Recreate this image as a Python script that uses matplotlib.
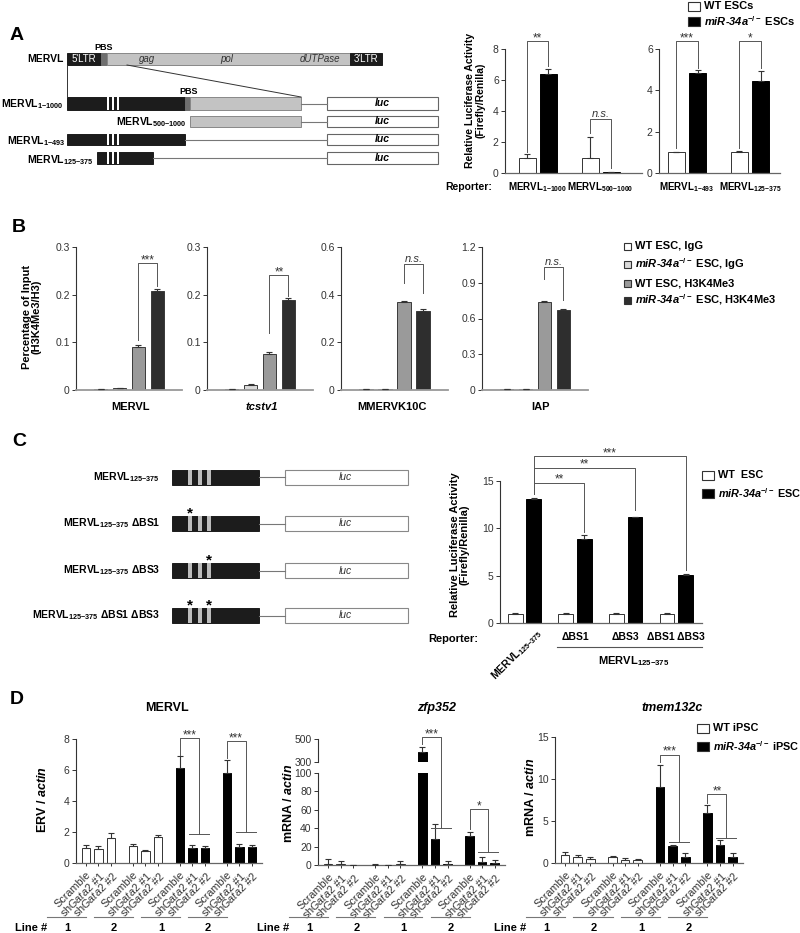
import matplotlib
matplotlib.use('Agg')
import matplotlib.pyplot as plt
import matplotlib.transforms as mtransforms
from matplotlib.patches import Rectangle
import numpy as np

plt.rcParams['font.family'] = ['Liberation Sans', 'DejaVu Sans']
plt.rcParams['mathtext.fontset'] = 'custom'
plt.rcParams['mathtext.rm'] = 'Liberation Sans'
plt.rcParams['mathtext.it'] = 'Liberation Sans:italic'
plt.rcParams['mathtext.bf'] = 'Liberation Sans:bold'
plt.rcParams['mathtext.bfit'] = 'Liberation Sans:italic:bold'
plt.rcParams['mathtext.default'] = 'regular'

KO = '$\\mathbfit{miR}$-$\\mathbfit{34a}^{-/-}$'

# ---- data ----
# A: luciferase reporters
a_rep1 = ['MERVL$_{1{-}1000}$', 'MERVL$_{500{-}1000}$']
a_wt1 = [1.0, 1.0]
a_wt1_err = [0.2, 1.3]
a_ko1 = [6.4, 0.08]
a_ko1_err = [0.3, 0.01]
a_rep2 = ['MERVL$_{1{-}493}$', 'MERVL$_{125{-}375}$']
a_wt2 = [1.0, 1.0]
a_wt2_err = [0.03, 0.06]
a_ko2 = [4.85, 4.45]
a_ko2_err = [0.12, 0.5]

# B: ChIP H3K4Me3
b_targets = ['MERVL', 'tcstv1', 'MMERVK10C', 'IAP']
b_series = ['WT ESC, IgG', KO + ' ESC, IgG', 'WT ESC, H3K4Me3', KO + ' ESC, H3K4Me3']
b_colors = ['white', '#d9d9d9', '#9a9a9a', '#2e2e2e']
b_mervl = [0.002, 0.004, 0.090, 0.207]
b_mervl_err = [0.0005, 0.001, 0.005, 0.004]
b_tcstv1 = [0.002, 0.011, 0.075, 0.188]
b_tcstv1_err = [0.0005, 0.001, 0.005, 0.004]
b_mmervk10c = [0.003, 0.003, 0.370, 0.333]
b_mmervk10c_err = [0.001, 0.001, 0.005, 0.006]
b_iap = [0.005, 0.005, 0.740, 0.675]
b_iap_err = [0.001, 0.001, 0.005, 0.005]
b_ymax = [0.3, 0.3, 0.6, 1.2]
b_yticks = [[0, 0.1, 0.2, 0.3], [0, 0.1, 0.2, 0.3], [0, 0.2, 0.4, 0.6], [0, 0.3, 0.6, 0.9, 1.2]]
b_sig = ['***', '**', 'n.s.', 'n.s.']

# C: binding-site mutants
c_reporters = ['MERVL$_{125{-}375}$', 'ΔBS1', 'ΔBS3', 'ΔBS1 ΔBS3']
c_wt = [1.0, 1.0, 1.0, 1.0]
c_wt_err = [0.04, 0.04, 0.1, 0.1]
c_ko = [13.1, 8.85, 11.2, 5.1]
c_ko_err = [0.15, 0.4, 0.05, 0.12]
c_sig = ['**', '**', '***']

# D: Gata2 knockdown in iPSC
d_labels = ['Scramble', 'sh$\\mathit{Gata2}$ #1', 'sh$\\mathit{Gata2}$ #2'] * 4
d_lines = ['1', '2', '1', '2']
d_mervl = [1.0, 0.92, 1.6, 1.12, 0.78, 1.65, 6.15, 1.0, 0.97, 5.8, 1.05, 1.02]
d_mervl_err = [0.15, 0.15, 0.35, 0.08, 0.05, 0.18, 0.75, 0.15, 0.15, 0.85, 0.18, 0.13]
d_zfp352 = [1.5, 1.0, 0.2, 0.5, 0.2, 1.2, 390, 28, 1.0, 32, 3.0, 2.0]
d_zfp352_err = [5.5, 3.0, 0.0, 0.5, 0.0, 3.0, 40, 17, 3.0, 3.5, 6.0, 3.0]
d_tmem132c = [1.0, 0.75, 0.5, 0.7, 0.4, 0.35, 9.0, 2.05, 0.7, 5.9, 2.2, 0.7]
d_tmem132c_err = [0.3, 0.25, 0.25, 0.1, 0.15, 0.1, 2.7, 0.15, 0.5, 1.0, 0.5, 0.5]

W, H = 800, 933
fig = plt.figure(figsize=(8, 9.33), dpi=100)
bg = fig.add_axes([0, 0, 1, 1], zorder=-1)
bg.set_xlim(0, W)
bg.set_ylim(H, 0)
bg.axis('off')


def px_axes(x0, y0, x1, y1):
    ax = fig.add_axes([x0 / W, 1 - y1 / H, (x1 - x0) / W, (y1 - y0) / H])
    ax.set_facecolor('none')
    for s in ('top', 'right'):
        ax.spines[s].set_visible(False)
    ax.spines['left'].set_linewidth(0.8)
    ax.spines['left'].set_color('#333333')
    ax.spines['bottom'].set_linewidth(0.9)
    ax.spines['bottom'].set_color('#666666')
    ax.tick_params(axis='y', length=3, width=0.7, labelsize=7.5, pad=1.5, colors='#333333')
    ax.set_xticks([])
    return ax


def bars(ax, x, vals, errs, color, width, edge='#333333'):
    ax.bar(x, vals, width, color=color, edgecolor=edge, linewidth=0.7, zorder=2)
    ax.errorbar(x, vals, yerr=[np.zeros(len(vals)), errs], fmt='none', ecolor='#333333',
                elinewidth=0.8, capsize=2.5, capthick=0.8, zorder=3)


def bracket(ax, x1, y1, x2, y2, top, label, fs=8.5):
    ax.plot([x1, x1, x2, x2], [y1, top, top, y2], color='#555555', lw=0.7, clip_on=False, zorder=4)
    if label == 'n.s.':
        ax.text((x1 + x2) / 2, top, label, ha='center', va='bottom', fontsize=8, style='italic', color='#333333')
    else:
        ax.text((x1 + x2) / 2, top, label, ha='center', va='baseline', fontsize=fs, color='#333333')


def px_y(ax):
    return mtransforms.blended_transform_factory(ax.transData, bg.transData)


def box(x0, x1, y0, y1, fc, ec=None, lw=0.7):
    bg.add_patch(Rectangle((x0, y0), x1 - x0, y1 - y0, facecolor=fc, edgecolor=ec or fc, linewidth=lw))


def legend(items, colors, x, ys, w, h, fs=8):
    for lab, col, y in zip(items, colors, ys):
        box(x, x + w, y - h / 2, y + h / 2, col, '#333333', 0.8)
        bg.text(x + w + 4, y, lab, ha='left', va='center', fontsize=fs, fontweight='bold')


# panel letters
for lab, (lx, ly) in zip('ABCD', [(10, 36), (12, 228), (12, 442), (10, 699)]):
    bg.text(lx, ly, lab, fontsize=14, fontweight='bold', ha='left', va='center')

# ---- A: diagram ----
black = '#1c1c1c'
lgray = '#c3c3c3'
box(67, 101, 53, 65, black)
box(101, 107, 53, 65, '#6f6f6f')
box(107, 350, 53, 65, lgray, '#888888')
box(350, 382, 53, 65, black)
bg.text(84, 59.5, "5'LTR", color='white', fontsize=7, ha='center', va='center')
bg.text(366, 59.5, "3'LTR", color='white', fontsize=7, ha='center', va='center')
for t, tx in [('gag', 147), ('pol', 227), ('dUTPase', 320)]:
    bg.text(tx, 59.5, t, style='italic', fontsize=7, ha='center', va='center', color='#333333')
bg.text(64, 59.5, 'MERVL', fontsize=7.5, fontweight='bold', ha='right', va='center')
bg.text(104, 47, 'PBS', fontsize=6.5, fontweight='bold', ha='center', va='center')
bg.plot([67, 67], [65, 97], color='#333333', lw=0.7)
bg.plot([127, 301], [65, 97], color='#333333', lw=0.7)

rows = [(97, 110), (116, 127), (134, 145), (152, 164)]
box(67, 185, *rows[0], black)
box(185, 190, *rows[0], '#6f6f6f')
box(190, 301, *rows[0], lgray, '#888888')
bg.text(189, 92, 'PBS', fontsize=6.5, fontweight='bold', ha='center', va='center')
box(190, 301, *rows[1], lgray, '#888888')
box(67, 185, *rows[2], black)
box(97, 153, *rows[3], black)
for r in (0, 2, 3):
    for sx in (107.3, 112, 116.7):
        box(sx, sx + 2, rows[r][0], rows[r][1], 'white', 'white', 0)
for r, x0 in zip(range(4), (301, 301, 185, 153)):
    yc = sum(rows[r]) / 2
    bg.plot([x0, 327], [yc, yc], color='#777777', lw=0.8)
    box(327, 438, rows[r][0], rows[r][1], 'white', '#666666', 0.8)
    bg.text(382, yc, 'luc', fontsize=7.5, fontweight='bold', style='italic', ha='center', va='center')
for lab, lx, ly in [(a_rep1[0], 64, 104), (a_rep1[1], 187, 122.5), (a_rep2[0], 66, 141), (a_rep2[1], 94, 160)]:
    bg.text(lx, ly, lab, fontsize=7.5, fontweight='bold', ha='right', va='center')

# ---- A: bar charts ----
ax = px_axes(505, 49, 642, 173)
x = np.arange(len(a_rep1))
bars(ax, x - 0.167, a_wt1, a_wt1_err, 'white', 0.27)
bars(ax, x + 0.167, a_ko1, a_ko1_err, 'black', 0.27, 'black')
ax.set_xlim(-0.52, 1.66)
ax.set_ylim(0, 8)
ax.set_yticks([0, 2, 4, 6, 8])
bracket(ax, -0.167, 1.35, 0.167, 6.9, 8.5, '**')
bracket(ax, 0.833, 2.6, 1.167, 0.3, 3.5, 'n.s.')
for xi, lab in zip(x, a_rep1):
    ax.text(xi, 187, lab, transform=px_y(ax), ha='center', va='center', fontsize=7, fontweight='bold')

ax = px_axes(659, 49, 780, 173)
bars(ax, x - 0.167, a_wt2, a_wt2_err, 'white', 0.27)
bars(ax, x + 0.167, a_ko2, a_ko2_err, 'black', 0.27, 'black')
ax.set_xlim(-0.444, 1.476)
ax.set_ylim(0, 6)
ax.set_yticks([0, 2, 4, 6])
bracket(ax, -0.167, 1.2, 0.167, 5.1, 6.39, '***')
bracket(ax, 0.833, 1.2, 1.167, 5.1, 6.39, '*')
for xi, lab in zip(x, a_rep2):
    ax.text(xi, 187, lab, transform=px_y(ax), ha='center', va='center', fontsize=7, fontweight='bold')

bg.text(492, 187, 'Reporter:', fontsize=7.5, fontweight='bold', ha='right', va='center')
bg.text(475, 100, 'Relative Luciferase Activity\n(Firefly/Renilla)', rotation=90, fontsize=7.5,
        fontweight='bold', ha='center', va='center', linespacing=1.0)
legend(['WT ESCs', KO + ' ESCs'], ['white', 'black'], 688, [6, 21], 12, 9, fs=8)

# ---- B ----
b_vals = [b_mervl, b_tcstv1, b_mmervk10c, b_iap]
b_errs = [b_mervl_err, b_tcstv1_err, b_mmervk10c_err, b_iap_err]
b_x = [(76, 182), (207, 313), (341, 448), (482, 588)]
b_brk = [(0.105, 0.218, 0.266), (0.12, 0.197, 0.241), (0.449, 0.407, 0.529), (0.93, 0.755, 1.03)]
b_lab_x = [131, 262, 392, 541]
xb = np.arange(4)
for i in range(4):
    ax = px_axes(b_x[i][0], 247, b_x[i][1], 390)
    for j in range(4):
        bars(ax, [xb[j]], [b_vals[i][j]], [b_errs[i][j]], b_colors[j], 0.72, '#3a3a3a')
    ax.set_xlim(-1.3, 4.3)
    ax.set_ylim(0, b_ymax[i])
    ax.set_yticks(b_yticks[i])
    ax.set_yticklabels([f'{t:g}' for t in b_yticks[i]])
    ax.spines['bottom'].set_color('#999999')
    ax.spines['bottom'].set_linewidth(1.3)
    bracket(ax, 2, b_brk[i][0], 3, b_brk[i][1], b_brk[i][2], b_sig[i])
    style = 'italic' if b_targets[i] == 'tcstv1' else 'normal'
    bg.text(b_lab_x[i], 407, b_targets[i], fontsize=8, fontweight='bold', style=style, ha='center', va='center')
bg.text(32, 317, 'Percentage of Input\n(H3K4Me3/H3)', rotation=90, fontsize=8, fontweight='bold',
        ha='center', va='center', linespacing=1.0)
legend(b_series, b_colors, 624, [246, 264, 283, 300], 7, 7, fs=8)

# ---- C: diagram ----
c_rows = [477, 523.5, 570.5, 615.5]
c_names = ['MERVL$_{125{-}375}$', 'MERVL$_{125{-}375}$ ΔBS1', 'MERVL$_{125{-}375}$ ΔBS3',
           'MERVL$_{125{-}375}$ ΔBS1 ΔBS3']
c_marks = [[], [190], [209], [190, 209]]
for yc, name, marks in zip(c_rows, c_names, c_marks):
    box(172, 259, yc - 7.5, yc + 7.5, black)
    for sx in (188, 197.5, 207):
        box(sx, sx + 4, yc - 7.5, yc + 7.5, '#bdbdbd', '#bdbdbd', 0)
    bg.plot([259, 285], [yc, yc], color='#777777', lw=0.8)
    box(285, 408, yc - 7.5, yc + 7.5, 'white', '#888888', 0.8)
    bg.text(345, yc, 'luc', fontsize=7.5, style='italic', ha='center', va='center', color='#333333')
    bg.text(160, yc, name, fontsize=7.5, fontweight='bold', ha='right', va='center')
    for mx in marks:
        bg.text(mx, yc - 6, '*', fontsize=11, fontweight='bold', ha='center', va='baseline')

# ---- C: chart ----
ax = px_axes(500, 481, 702, 623)
xc = np.arange(len(c_reporters))
bars(ax, xc - 0.184, c_wt, c_wt_err, 'white', 0.29)
bars(ax, xc + 0.184, c_ko, c_ko_err, 'black', 0.29, 'black')
ax.set_xlim(-0.485, 3.51)
ax.set_ylim(0, 15)
ax.set_yticks([0, 5, 10, 15])
for k, (top, y2) in enumerate([(14.8, 9.6), (16.4, 11.9), (17.6, 5.6)]):
    bracket(ax, 0.184, 13.6, k + 1.184, y2, top, c_sig[k])
T = px_y(ax)
ax.text(0.22, 626, c_reporters[0], transform=T, rotation=45, ha='right', va='top',
        rotation_mode='anchor', fontsize=7.5, fontweight='bold')
for xi, lab in zip(xc[1:], c_reporters[1:]):
    ax.text(xi, 637, lab, transform=T, ha='center', va='center', fontsize=7.5, fontweight='bold')
ax.plot([0.64, 3.51], [647, 647], transform=T, color='#555555', lw=0.8, clip_on=False)
ax.text(2.15, 661, c_reporters[0], transform=T, ha='center', va='center', fontsize=8, fontweight='bold')
bg.text(478, 639, 'Reporter:', fontsize=8, fontweight='bold', ha='right', va='center')
bg.text(460, 545, 'Relative Luciferase Activity\n(Firefly/Renilla)', rotation=90, fontsize=8,
        fontweight='bold', ha='center', va='center', linespacing=1.0)
legend(['WT  ESC', KO + ' ESC'], ['white', 'black'], 702, [475, 493], 12, 9, fs=7.8)

# ---- D ----
xd = np.array([g * 3.76 + i for g in range(4) for i in range(3)])
d_colors = ['white'] * 6 + ['black'] * 6
d_edges = ['#333333'] * 6 + ['black'] * 6


def d_bars(ax, vals, errs):
    for j in range(12):
        bars(ax, [xd[j]], [vals[j]], [errs[j]], d_colors[j], 0.68, d_edges[j])
    ax.set_xlim(-0.8, 14.1)


def d_xaxis(ax):
    ax.set_xticks(xd)
    ax.set_xticklabels(d_labels, rotation=45, ha='right', rotation_mode='anchor', fontsize=7.8, color='#333333')
    ax.tick_params(axis='x', length=2.5, width=0.7, pad=2, colors='#333333')
    T = px_y(ax)
    for g in range(4):
        x0 = g * 3.76
        ax.plot([x0 - 3.1, x0], [917, 917], transform=T, color='#777777', lw=0.8, clip_on=False)
        ax.text(x0 - 1.5, 928, d_lines[g], transform=T, ha='center', va='center', fontsize=8, fontweight='bold')
    ax.text(-3.1, 928, 'Line #', transform=T, ha='right', va='center', fontsize=8, fontweight='bold')


def d_bracket(ax, g, y1, top, y2, label):
    s = g * 3.76
    mid = s + 1.5
    bracket(ax, s, y1, mid, y2, top, label)
    ax.plot([s + 0.7, s + 2.3], [y2, y2], color='#555555', lw=0.7, clip_on=False, zorder=4)


# D1 MERVL
ax = px_axes(76, 739, 262, 863)
d_bars(ax, d_mervl, d_mervl_err)
ax.set_ylim(0, 8)
ax.set_yticks([0, 2, 4, 6, 8])
d_xaxis(ax)
d_bracket(ax, 2, 7.0, 8.05, 1.85, '***')
d_bracket(ax, 3, 6.75, 7.87, 2.0, '***')
bg.text(167, 708, 'MERVL', fontsize=9, fontweight='bold', ha='center', va='center')
bg.text(43, 800, 'ERV / $\\mathbfit{actin}$', rotation=90, fontsize=9, fontweight='bold', ha='center', va='center')

# D2 zfp352 (broken axis)
up = px_axes(318, 739, 505, 762)
lo = px_axes(318, 773, 505, 865)
d_bars(up, d_zfp352, d_zfp352_err)
d_bars(lo, d_zfp352, d_zfp352_err)
up.set_ylim(300, 500)
up.set_yticks([300, 500])
up.spines['bottom'].set_visible(False)
lo.set_ylim(0, 100)
lo.set_yticks([0, 20, 40, 60, 80, 100])
d_xaxis(lo)
d_bracket(lo, 2, 132, 139, 40, '***')
d_bracket(lo, 3, 39, 60.7, 14, '*')
bg.text(437, 708, 'zfp352', fontsize=9, fontweight='bold', style='italic', ha='center', va='center')
bg.text(288, 803, 'mRNA / $\\mathbfit{actin}$', rotation=90, fontsize=9, fontweight='bold', ha='center', va='center')

# D3 tmem132c
ax = px_axes(555, 737, 743, 863)
d_bars(ax, d_tmem132c, d_tmem132c_err)
ax.set_ylim(0, 15)
ax.set_yticks([0, 5, 10, 15])
d_xaxis(ax)
d_bracket(ax, 2, 12.0, 12.9, 2.5, '***')
d_bracket(ax, 3, 7.1, 8.2, 3.0, '**')
bg.text(672, 708, 'tmem132c', fontsize=9, fontweight='bold', style='italic', ha='center', va='center')
bg.text(531, 797, 'mRNA / $\\mathbfit{actin}$', rotation=90, fontsize=9, fontweight='bold', ha='center', va='center')
legend(['WT iPSC', KO + ' iPSC'], ['white', 'black'], 697, [728, 746], 12, 9, fs=7.8)

fig.savefig('out.png', dpi=100)
